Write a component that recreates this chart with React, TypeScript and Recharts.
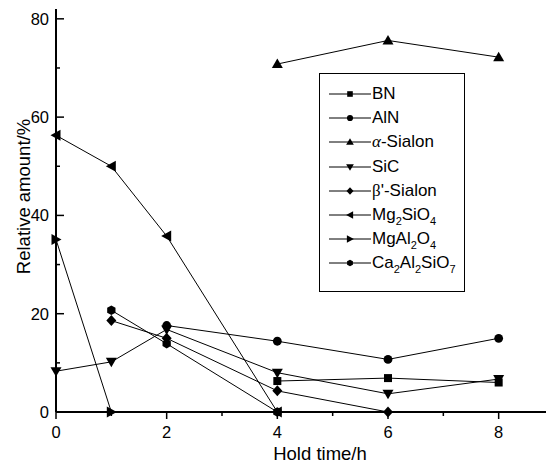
import React from "react";
import { LineChart, Line, XAxis, YAxis } from "recharts";

const hours = [0, 1, 2, 4, 6, 8];
const bn = [null, null, null, 6.3, 6.9, 6.0];
const aln = [null, null, 17.6, 14.4, 10.7, 15.0];
const alphaSialon = [null, null, null, 70.8, 75.6, 72.2];
const sic = [8.3, 10.2, 16.8, 8.0, 3.7, 6.7];
const betaSialon = [null, 18.6, 15.0, 4.3, 0, null];
const mg2sio4 = [56.3, 50.0, 35.8, 0, null, null];
const mgal2o4 = [35.1, 0, null, null, null, null];
const ca2al2sio7 = [null, 20.7, 13.9, 0, null, null];

const xTicks = [0, 1, 2, 3, 4, 5, 6, 7, 8];
const topTicks = [0, 1, 2, 3, 4, 5, 6, 7, 8, 9];
const yTicks = [0, 10, 20, 30, 40, 50, 60, 70, 80];

const FONT = "'Liberation Sans', Arial, Helvetica, sans-serif";

type Kind = "square" | "circle" | "up" | "down" | "diamond" | "left" | "right" | "hex";

const series: { key: string; kind: Kind; values: (number | null)[] }[] = [
  { key: "bn", kind: "square", values: bn },
  { key: "aln", kind: "circle", values: aln },
  { key: "alpha", kind: "up", values: alphaSialon },
  { key: "sic", kind: "down", values: sic },
  { key: "beta", kind: "diamond", values: betaSialon },
  { key: "mg2sio4", kind: "left", values: mg2sio4 },
  { key: "mgal2o4", kind: "right", values: mgal2o4 },
  { key: "ca", kind: "hex", values: ca2al2sio7 },
];

const data = hours.map((h, i) => {
  const row: Record<string, number | null> = { h };
  series.forEach((s) => (row[s.key] = s.values[i]));
  return row;
});

function markerShape(kind: Kind, cx: number, cy: number, s = 1) {
  const f = "#000";
  switch (kind) {
    case "square":
      return <rect x={cx - 4 * s} y={cy - 4 * s} width={8 * s} height={8 * s} fill={f} />;
    case "circle":
      return <circle cx={cx} cy={cy} r={4.4 * s} fill={f} />;
    case "up":
      return <polygon points={`${cx},${cy - 5.5 * s} ${cx + 5.5 * s},${cy + 4 * s} ${cx - 5.5 * s},${cy + 4 * s}`} fill={f} />;
    case "down":
      return <polygon points={`${cx},${cy + 5.5 * s} ${cx + 5.5 * s},${cy - 4 * s} ${cx - 5.5 * s},${cy - 4 * s}`} fill={f} />;
    case "diamond":
      return <polygon points={`${cx},${cy - 5.5 * s} ${cx + 5 * s},${cy} ${cx},${cy + 5.5 * s} ${cx - 5 * s},${cy}`} fill={f} />;
    case "left":
      return <polygon points={`${cx - 5.5 * s},${cy} ${cx + 4.5 * s},${cy - 5.5 * s} ${cx + 4.5 * s},${cy + 5.5 * s}`} fill={f} />;
    case "right":
      return <polygon points={`${cx + 5.5 * s},${cy} ${cx - 4.5 * s},${cy - 5.5 * s} ${cx - 4.5 * s},${cy + 5.5 * s}`} fill={f} />;
    case "hex": {
      const r = 4.8 * s;
      const pts = [0, 1, 2, 3, 4, 5]
        .map((k) => {
          const a = (Math.PI / 3) * k + Math.PI / 6;
          return `${cx + r * Math.cos(a)},${cy + r * Math.sin(a)}`;
        })
        .join(" ");
      return <polygon points={pts} fill={f} />;
    }
  }
}

const XTick = (props: any) => {
  const { x, y, payload } = props;
  const major = payload.value % 2 === 0;
  return (
    <g>
      <line x1={x} y1={y} x2={x} y2={y + (major ? 7 : 4)} stroke="#000" strokeWidth={1.5} />
      {major && (
        <text x={x} y={y + 26} textAnchor="middle" fontSize={16.5} fontFamily={FONT} fill="#000">
          {payload.value}
        </text>
      )}
    </g>
  );
};

const TopTick = (props: any) => {
  const { x, y } = props;
  return <line x1={x} y1={y} x2={x} y2={y + 3} stroke="#000" strokeWidth={1} />;
};

const YTick = (props: any) => {
  const { x, y, payload } = props;
  const major = payload.value % 20 === 0;
  return (
    <g>
      <line x1={x} y1={y} x2={x + (major ? 8 : 4)} y2={y} stroke="#000" strokeWidth={1.5} />
      {major && (
        <text x={x - 7} y={y + 6} textAnchor="end" fontSize={16.5} fontFamily={FONT} fill="#000">
          {payload.value}
        </text>
      )}
    </g>
  );
};

const legendRows: { kind: Kind; label: React.ReactNode }[] = [
  { kind: "square", label: "BN" },
  { kind: "circle", label: "AlN" },
  { kind: "up", label: <><i style={{ fontFamily: "'Liberation Serif', serif" }}>α</i>-Sialon</> },
  { kind: "down", label: "SiC" },
  { kind: "diamond", label: <><span style={{ fontFamily: "'Liberation Serif', serif" }}>β</span>'-Sialon</> },
  { kind: "left", label: <>Mg<sub style={subStyle()}>2</sub>SiO<sub style={subStyle()}>4</sub></> },
  { kind: "right", label: <>MgAl<sub style={subStyle()}>2</sub>O<sub style={subStyle()}>4</sub></> },
  { kind: "hex", label: <>Ca<sub style={subStyle()}>2</sub>Al<sub style={subStyle()}>2</sub>SiO<sub style={subStyle()}>7</sub></> },
];

function subStyle(): React.CSSProperties {
  return { fontSize: 11, verticalAlign: "-5px", lineHeight: 0 };
}

function LegendBox() {
  return (
    <div
      style={{
        position: "absolute",
        left: 319,
        top: 73,
        width: 146,
        height: 219,
        boxSizing: "border-box",
        border: "1px solid #000",
        background: "#fff",
        paddingTop: 8,
        fontFamily: FONT,
        fontSize: 17,
        color: "#000",
      }}
    >
      {legendRows.map((r, i) => (
        <div key={i} style={{ height: 24.2, display: "flex", alignItems: "center", whiteSpace: "nowrap" }}>
          <svg width={42} height={16} style={{ marginLeft: 9, flex: "none" }}>
            <line x1={0} y1={8} x2={42} y2={8} stroke="#000" strokeWidth={1} />
            {markerShape(r.kind, 21, 8, 0.7)}
          </svg>
          <span style={{ marginLeft: 1 }}>{r.label}</span>
        </div>
      ))}
    </div>
  );
}

export default function App() {
  return (
    <div style={{ position: "absolute", left: 0, top: 0, width: 546, height: 466, overflow: "hidden", background: "#fff" }}>
      <LineChart width={560} height={466} data={data} margin={{ top: 9, right: 6, left: 0, bottom: 0 }}>
        <XAxis
          dataKey="h"
          type="number"
          domain={[0, 9]}
          ticks={xTicks}
          height={54}
          tickSize={0}
          tickMargin={0}
          tick={XTick}
          tickLine={false}
          axisLine={{ stroke: "#000", strokeWidth: 2 }}
          interval={0}
          label={{
            content: (p: any) => (
              <text x={320} y={460} textAnchor="middle" fontSize={18.5} fontFamily={FONT} fill="#000">
                Hold time/h
              </text>
            ),
          }}
        />
        <XAxis
          xAxisId="top"
          dataKey="h"
          type="number"
          orientation="top"
          domain={[0, 9]}
          ticks={topTicks}
          height={0}
          tickSize={0}
          tickMargin={0}
          tick={TopTick}
          tickLine={false}
          axisLine={{ stroke: "#000", strokeWidth: 2 }}
          interval={0}
        />
        <YAxis
          type="number"
          domain={[0, 82]}
          ticks={yTicks}
          width={56}
          tickSize={0}
          tickMargin={0}
          tick={YTick}
          tickLine={false}
          axisLine={{ stroke: "#000", strokeWidth: 2 }}
          interval={0}
          label={{
            content: (p: any) => {
              const vb = p.viewBox || { y: 9, height: 403 };
              const cy = vb.y + vb.height / 2 - 14;
              return (
                <text
                  x={30}
                  y={cy}
                  transform={`rotate(-90 30 ${cy})`}
                  textAnchor="middle"
                  fontSize={18.5}
                  fontFamily={FONT}
                  fill="#000"
                >
                  Relative amount/%
                </text>
              );
            },
          }}
        />
        {series.map((s) => (
          <Line
            key={s.key}
            dataKey={s.key}
            type="linear"
            stroke="#000"
            strokeWidth={1}
            isAnimationActive={false}
            activeDot={false}
            dot={(p: any) =>
              p.cx == null || p.cy == null || p.value == null ? (
                <g key={`${s.key}-${p.index}`} />
              ) : (
                <g key={`${s.key}-${p.index}`}>{markerShape(s.kind, p.cx, p.cy)}</g>
              )
            }
          />
        ))}
      </LineChart>
      <LegendBox />
    </div>
  );
}
